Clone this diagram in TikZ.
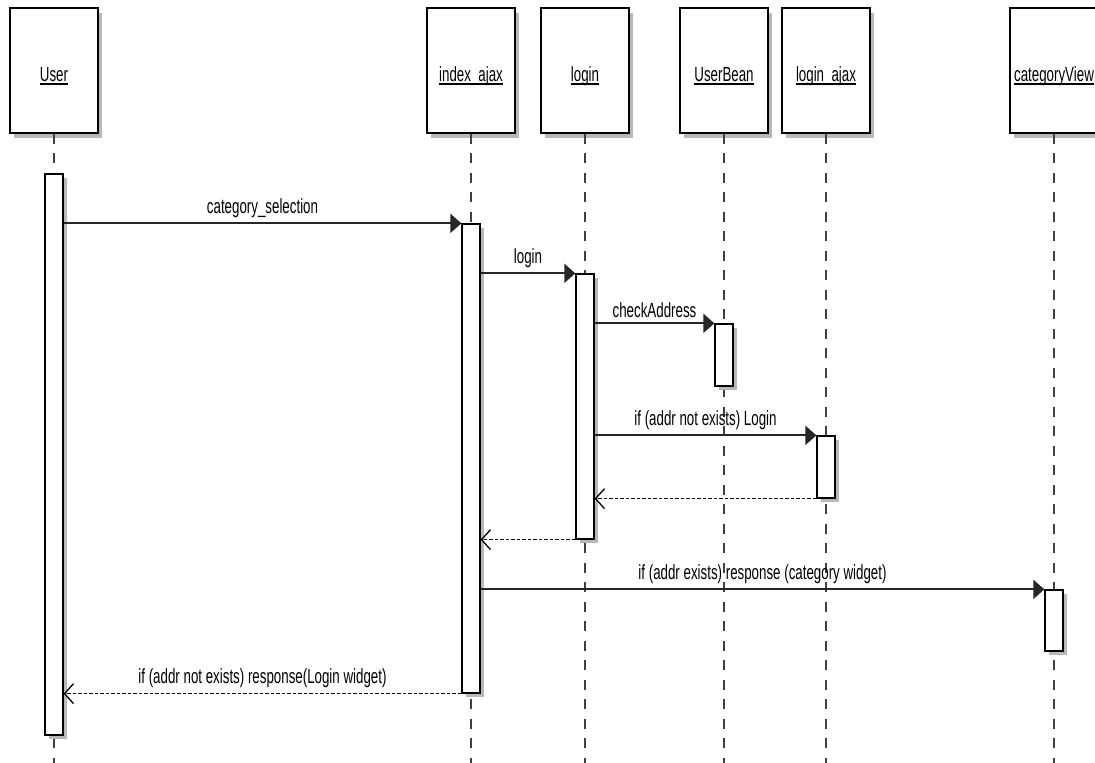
\documentclass[tikz,border=0pt]{standalone}
\usepackage{fontspec}
\setmainfont[FakeStretch=0.65]{Liberation Sans}
\usetikzlibrary{arrows.meta,shadows}

% object name with a fixed underline, as in the UML tool
\newcommand{\objname}[1]{\setbox0\hbox{#1}\rlap{\copy0}\rule[-3pt]{\wd0}{1.8pt}}

\begin{document}
\begin{tikzpicture}[
        x=1pt, y=-1pt,
        font=\fontsize{20.5}{24}\selectfont,
        head/.style={draw, line width=1.9pt, fill=white, minimum width=88pt, minimum height=125pt,
                     text height=22pt, text depth=0pt,
                     drop shadow={shadow xshift=4pt, shadow yshift=-5pt, fill=black!28, opacity=1}},
        act/.style={draw, line width=1.3pt, fill=white, minimum width=18pt, inner sep=0pt,
                    drop shadow={shadow xshift=4pt, shadow yshift=-4pt, fill=black!28, opacity=1}},
        life/.style={draw=black!75, line width=1.5pt, dash pattern=on 10pt off 9.5pt},
        msg/.style={-{Triangle[length=11pt, width=19pt]}, line width=2pt, draw=black!85},
        ret/.style={-{Straight Barb[length=9pt, width=20pt]}, line width=1.3pt, dash pattern=on 3.5pt off 2pt},
        lbl/.style={above=5pt, inner sep=0pt}
    ]
    \useasboundingbox (0,0) rectangle (1095,763);
    \coordinate (bottom) at (0,763);

    \node[head] (user)  at (54,70.5)   {\objname{User}};
    \node[head] (index) at (471,70.5)  {\objname{index\_ajax}};
    \node[head] (login) at (585,70.5)  {\objname{login}};
    \node[head] (bean)  at (724,70.5)  {\objname{UserBean}};
    \node[head] (lajax) at (826,70.5)  {\objname{login\_ajax}};
    \node[head] (view)  at (1054,70.5) {\objname{categoryView}};

    \foreach \n in {user,index,login,bean,lajax,view}
        \draw[life] (\n.south) -- (\n.south |- bottom);

    \node[act, minimum height=561pt] (uact) at (54,454.5)  {};
    \node[act, minimum height=469pt] (iact) at (471,458.5) {};
    \node[act, minimum height=265pt] (lact) at (585,406.5) {};
    \node[act, minimum height=62pt]  (bact) at (724,355)   {};
    \node[act, minimum height=62pt]  (aact) at (826,467)   {};
    \node[act, minimum height=61pt]  (cact) at (1054,620.5) {};

    \draw[msg] (uact.east |- iact.north) -- node[lbl] {category\_selection} (iact.north west);
    \draw[msg] (iact.east |- lact.north) -- node[lbl] {login} (lact.north west);
    \draw[msg] (lact.east |- bact.north) -- node[lbl] {checkAddress} (bact.north west);
    \draw[msg] (lact.east |- aact.north) -- node[lbl] {if (addr not exists) Login} (aact.north west);
    \draw[ret] (aact.south west) -- (lact.east |- aact.south);
    \draw[ret] (lact.south west) -- (iact.east |- lact.south);
    \draw[msg] (iact.east |- cact.north) -- node[lbl] {if (addr exists) response (category widget)} (cact.north west);
    \draw[ret] (iact.south west) -- node[lbl] {if (addr not exists) response(Login widget)} (uact.east |- iact.south);
\end{tikzpicture}
\end{document}
